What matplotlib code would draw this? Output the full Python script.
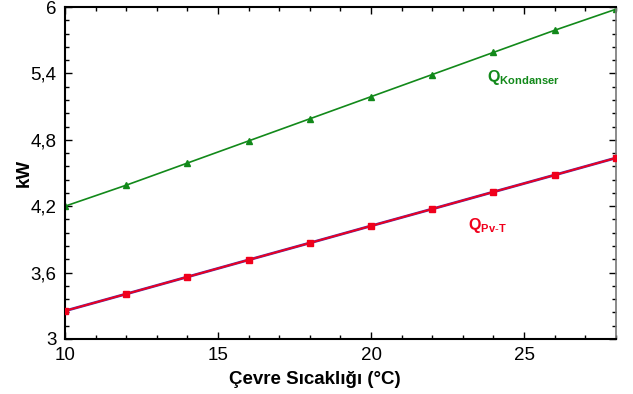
import numpy as np
import matplotlib
matplotlib.use('Agg')
import matplotlib.pyplot as plt
from matplotlib.ticker import MultipleLocator, FuncFormatter

matplotlib.rcParams['font.family'] = 'Liberation Sans'
matplotlib.rcParams['mathtext.fontset'] = 'custom'
matplotlib.rcParams['mathtext.rm'] = 'Liberation Sans'
matplotlib.rcParams['mathtext.bf'] = 'Liberation Sans:bold'

# ambient temperature [C] and heat rates [kW]
t_amb = [10, 12, 14, 16, 18, 20, 22, 24, 26, 28]
q_kondanser = [4.20, 4.39, 4.59, 4.79, 4.99, 5.19, 5.39, 5.59, 5.79, 5.98]
q_pvt = [3.254, 3.407, 3.561, 3.715, 3.868, 4.022, 4.175, 4.329, 4.482, 4.636]

green = '#12891a'
red = '#f0001c'

fig = plt.figure(figsize=(6.33, 3.94), dpi=100)
ax = fig.add_axes([0.1027, 0.1396, 0.8703, 0.8426])

ax.plot(t_amb, q_kondanser, color=green, lw=1.2, marker='^', ms=5, mec=green, mfc=green)
ax.plot(t_amb, q_pvt, color='#5a2aa0', lw=2.0, zorder=2)
ax.plot(t_amb, q_pvt, color=red, lw=1.3, marker='s', ms=5, mec=red, mfc=red, zorder=3)

ax.set_xlim(10, 28)
ax.set_ylim(3, 6)
ax.xaxis.set_major_locator(MultipleLocator(5))
ax.xaxis.set_minor_locator(MultipleLocator(1))
ax.yaxis.set_major_locator(MultipleLocator(0.6))
ax.yaxis.set_minor_locator(MultipleLocator(0.12))
ax.yaxis.set_major_formatter(FuncFormatter(lambda v, p: ('%g' % round(v, 1)).replace('.', ',')))

ax.tick_params(axis='both', which='major', direction='in', length=5, width=1, labelsize=13.5,
               top=True, right=True, pad=6)
ax.tick_params(axis='both', which='minor', direction='in', length=3, width=1, top=True, right=True)
for s in ['left', 'bottom', 'top']:
  ax.spines[s].set_linewidth(1.5)
ax.spines['right'].set_color('#777777')
ax.spines['right'].set_linewidth(1.2)

ax.set_xlabel('Çevre Sıcaklığı (°C)', fontsize=13.5, fontweight='bold')
ax.set_ylabel('kW', fontsize=13.5, fontweight='bold')
ax.xaxis.set_label_coords(0.454, -0.097)
ax.yaxis.set_label_coords(-0.058, 0.5)

ax.text(23.8, 5.36, r'$\mathbf{Q}_{\mathbf{Kondanser}}$', color=green, fontsize=11.5, ha='left', va='center')
ax.text(23.17, 4.03, r'$\mathbf{Q}_{\mathbf{Pv\text{-}T}}$', color=red, fontsize=11.5, ha='left', va='center')

fig.savefig('out.png', dpi=100)
